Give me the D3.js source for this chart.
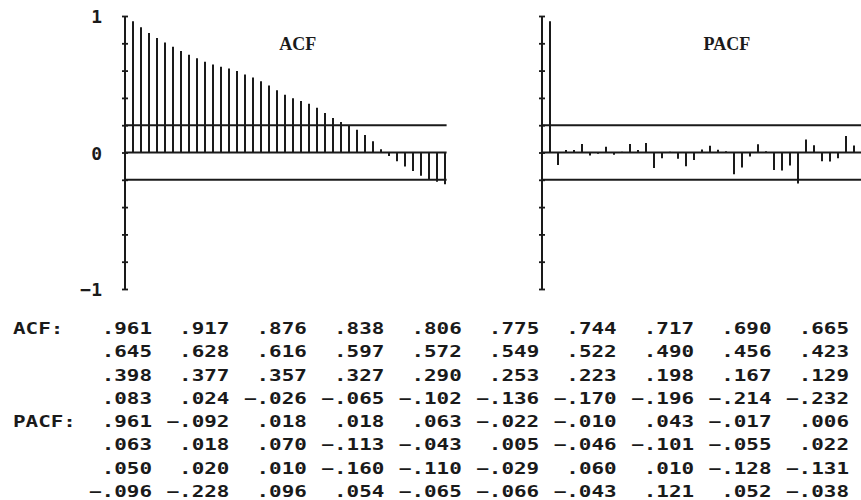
<!DOCTYPE html>
<html>
<head>
<meta charset="utf-8">
<script src="https://cdn.jsdelivr.net/npm/d3@7"></script>
<style>
  body { margin: 0; background: #fff; }
  svg { display: block; }
</style>
</head>
<body>
<svg id="chart" width="861" height="500"></svg>
<script>
// autocorrelations, lags 1..40
var acf = [
  .961, .917, .876, .838, .806, .775, .744, .717, .690, .665,
  .645, .628, .616, .597, .572, .549, .522, .490, .456, .423,
  .398, .377, .357, .327, .290, .253, .223, .198, .167, .129,
  .083, .024, -.026, -.065, -.102, -.136, -.170, -.196, -.214, -.232
];
var pacf = [
  .961, -.092, .018, .018, .063, -.022, -.010, .043, -.017, .006,
  .063, .018, .070, -.113, -.043, .005, -.046, -.101, -.055, .022,
  .050, .020, .010, -.160, -.110, -.029, .060, .010, -.128, -.131,
  -.096, -.228, .096, .054, -.065, -.066, -.043, .121, .052, -.038
];
var titles = ["ACF", "PACF"];
var rowLabels = ["ACF:", "PACF:"];
var yTickLabels = [1, 0, -1];
var band = 0.2;

var ink = "#1a1a1a";
var svg = d3.select("#chart");

var y = d3.scaleLinear().domain([-1, 1]).range([289, 16]);

var panels = [
  { title: titles[0], values: acf, x0: 125, titleLag: 21.6, showLabels: true },
  { title: titles[1], values: pacf, x0: 542, titleLag: 23.1, showLabels: false }
];

panels.forEach(function(p) {
  var x = d3.scaleLinear().domain([0, 40]).range([p.x0, p.x0 + 320]);
  var g = svg.append("g");

  // vertical axis with small ticks every .2
  var axis = d3.axisLeft(y).tickValues(d3.range(-1, 1.01, 0.2)).tickSize(3).tickFormat("");
  var ag = g.append("g").attr("transform", "translate(" + p.x0 + ",0)").call(axis);
  ag.select(".domain").remove();
  ag.selectAll(".tick line").attr("x1", -3).attr("x2", 3).attr("stroke", ink).attr("stroke-width", 1.8);
  g.append("line")
    .attr("x1", p.x0).attr("x2", p.x0)
    .attr("y1", y(1)).attr("y2", y(-1))
    .attr("stroke", ink).attr("stroke-width", 2);

  // zero line and +-band
  [0, band, -band].forEach(function(v) {
    g.append("line")
      .attr("x1", p.x0).attr("x2", x(40.2))
      .attr("y1", y(v)).attr("y2", y(v))
      .attr("stroke", ink).attr("stroke-width", 2);
  });

  // spikes
  g.selectAll(".spike")
    .data(p.values)
    .enter().append("line")
    .attr("class", "spike")
    .attr("x1", function(d, i) { return x(i + 1); })
    .attr("x2", function(d, i) { return x(i + 1); })
    .attr("y1", y(0))
    .attr("y2", function(d) { return y(d); })
    .attr("stroke", ink).attr("stroke-width", 2);

  g.append("text")
    .attr("x", x(p.titleLag)).attr("y", 50)
    .attr("text-anchor", "middle")
    .attr("font-family", "'Liberation Serif', serif")
    .attr("font-weight", "bold")
    .attr("font-size", 18)
    .attr("fill", ink)
    .text(p.title);

  if (p.showLabels) {
    g.selectAll(".ylab")
      .data(yTickLabels)
      .enter().append("text")
      .attr("class", "ylab")
      .attr("x", 102)
      .attr("y", function(d) { return y(d) + 7; })
      .attr("text-anchor", "end")
      .attr("font-family", "'DejaVu Sans Mono', monospace")
      .attr("font-weight", "bold")
      .attr("font-size", 18)
      .attr("fill", ink)
      .text(function(d) { return d < 0 ? "\u2212" + Math.abs(d) : d; });
  }
});

// value table
var fmt = function(v) {
  return d3.format(".3f")(v).replace("0.", ".");
};
var rowY = d3.scaleLinear().domain([0, 7]).range([334, 497]);
var colX = d3.scaleLinear().domain([0, 9]).range([152, 849]);
var sx = 1.35;

function cell(xp, yp, txt, anchor) {
  svg.append("text")
    .attr("transform", "translate(" + xp + "," + yp + ") scale(" + sx + ",1)")
    .attr("text-anchor", anchor)
    .attr("font-family", "'DejaVu Sans Mono', monospace")
    .attr("font-weight", "bold")
    .attr("font-size", 15.5)
    .attr("fill", ink)
    .text(txt);
}

[acf, pacf].forEach(function(vals, k) {
  cell(13, rowY(k * 4), rowLabels[k], "start");
  vals.forEach(function(v, i) {
    var r = k * 4 + Math.floor(i / 10);
    cell(colX(i % 10), rowY(r), fmt(v), "end");
  });
});
</script>
</body>
</html>
